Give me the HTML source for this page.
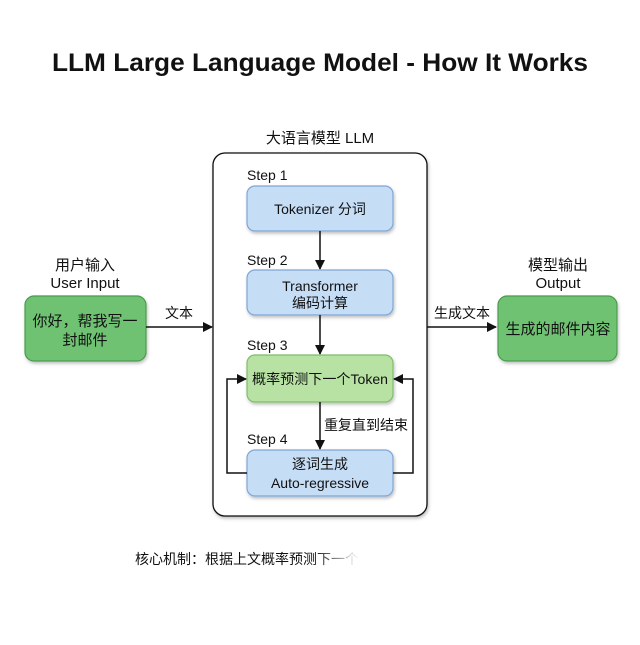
<!DOCTYPE html>
<html><head><meta charset="utf-8"><style>
html,body{margin:0;padding:0;background:#fff}
svg text{font-family:"Liberation Sans","Noto Sans CJK SC",sans-serif;fill:#111}
</style></head><body>
<svg width="640" height="640" viewBox="0 0 640 640" xmlns="http://www.w3.org/2000/svg">
<defs>
<marker id="a" markerWidth="10" markerHeight="10" refX="9" refY="5" orient="auto" markerUnits="userSpaceOnUse"><path d="M0,0 L10,5 L0,10 z" fill="#111"/></marker>
<filter id="s" x="-10%" y="-10%" width="130%" height="140%"><feDropShadow dx="1" dy="2" stdDeviation="1.5" flood-opacity="0.25"/></filter>
<linearGradient id="f" x1="0" x2="1"><stop offset="0.8" stop-color="#111"/><stop offset="1" stop-color="#111" stop-opacity="0"/></linearGradient>
</defs>
<rect width="640" height="640" fill="#fff"/>
<text x="320" y="71" text-anchor="middle" font-size="25" font-weight="bold" textLength="536" lengthAdjust="spacingAndGlyphs">LLM Large Language Model - How It Works</text>
<text x="320" y="143" text-anchor="middle" font-size="15">大语言模型 LLM</text>
<rect x="213" y="153" width="214" height="363" rx="12" fill="#fff" stroke="#111" stroke-width="1.3" filter="url(#s)"/>
<text x="247" y="180" font-size="14">Step 1</text>
<rect x="247" y="186" width="146" height="45" rx="8" fill="#c6ddf6" stroke="#7ea6d6" stroke-width="1.2" filter="url(#s)"/>
<text x="320" y="214" text-anchor="middle" font-size="14">Tokenizer 分词</text>
<line x1="320" y1="231" x2="320" y2="269" stroke="#111" stroke-width="1.5" marker-end="url(#a)"/>
<text x="247" y="265" font-size="14">Step 2</text>
<rect x="247" y="270" width="146" height="45" rx="8" fill="#c6ddf6" stroke="#7ea6d6" stroke-width="1.2" filter="url(#s)"/>
<text x="320" y="291" text-anchor="middle" font-size="14">Transformer</text>
<text x="320" y="308" text-anchor="middle" font-size="14">编码计算</text>
<line x1="320" y1="315" x2="320" y2="354" stroke="#111" stroke-width="1.5" marker-end="url(#a)"/>
<text x="247" y="350" font-size="14">Step 3</text>
<rect x="247" y="355" width="146" height="47" rx="8" fill="#b7e2a3" stroke="#7fbd6a" stroke-width="1.2" filter="url(#s)"/>
<text x="320" y="384" text-anchor="middle" font-size="14" textLength="136" lengthAdjust="spacingAndGlyphs">概率预测下一个Token</text>
<line x1="320" y1="402" x2="320" y2="449" stroke="#111" stroke-width="1.5" marker-end="url(#a)"/>
<text x="324" y="430" font-size="14">重复直到结束</text>
<text x="247" y="444" font-size="14">Step 4</text>
<rect x="247" y="450" width="146" height="46" rx="8" fill="#c6ddf6" stroke="#7ea6d6" stroke-width="1.2" filter="url(#s)"/>
<text x="320" y="469" text-anchor="middle" font-size="14">逐词生成</text>
<text x="320" y="488" text-anchor="middle" font-size="14">Auto-regressive</text>
<polyline points="247,473 227,473 227,379 246,379" fill="none" stroke="#111" stroke-width="1.5" marker-end="url(#a)"/>
<polyline points="393,473 413,473 413,379 394,379" fill="none" stroke="#111" stroke-width="1.5" marker-end="url(#a)"/>
<text x="85" y="270" text-anchor="middle" font-size="15">用户输入</text>
<text x="85" y="288" text-anchor="middle" font-size="15">User Input</text>
<rect x="25" y="296" width="121" height="65" rx="9" fill="#6fc273" stroke="#4a9a4e" stroke-width="1.2" filter="url(#s)"/>
<text x="85" y="326" text-anchor="middle" font-size="15">你好，帮我写一</text>
<text x="85" y="345" text-anchor="middle" font-size="15">封邮件</text>
<line x1="146" y1="327" x2="212" y2="327" stroke="#111" stroke-width="1.5" marker-end="url(#a)"/>
<text x="179" y="318" text-anchor="middle" font-size="14">文本</text>
<text x="558" y="270" text-anchor="middle" font-size="15">模型输出</text>
<text x="558" y="288" text-anchor="middle" font-size="15">Output</text>
<rect x="498" y="296" width="119" height="65" rx="9" fill="#6fc273" stroke="#4a9a4e" stroke-width="1.2" filter="url(#s)"/>
<text x="558" y="334" text-anchor="middle" font-size="15">生成的邮件内容</text>
<line x1="427" y1="327" x2="496" y2="327" stroke="#111" stroke-width="1.5" marker-end="url(#a)"/>
<text x="462" y="318" text-anchor="middle" font-size="14">生成文本</text>
<text x="135" y="564" font-size="14" style="fill:url(#f)">核心机制：根据上文概率预测下一个</text>
</svg>
</body></html>
